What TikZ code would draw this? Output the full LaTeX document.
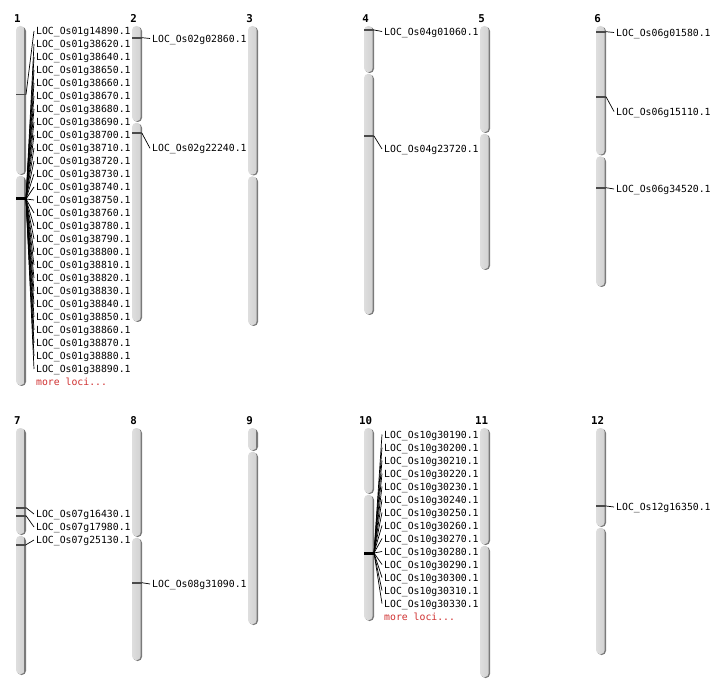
\documentclass[tikz,border=0pt]{standalone}
\usepackage{fontspec}
\newfontfamily\labfont{DejaVu Sans Mono}
\definecolor{chrlight}{HTML}{D2D2D2}
\definecolor{chrlighter}{HTML}{DEDEDE}
\definecolor{chrdark}{HTML}{7A7A7A}
\definecolor{mkgray}{HTML}{4A4A4A}
\definecolor{morered}{HTML}{D03030}
\tikzset{
  lab/.style={anchor=west, inner xsep=2pt, inner ysep=0pt, text height=7.2pt, text depth=0pt,
              font=\labfont\fontsize{9.8}{10}\selectfont},
  morelab/.style={lab, text=morered},
  chrnum/.style={inner sep=0pt, font=\labfont\bfseries\fontsize{10.8}{11}\selectfont},
  conn/.style={draw=black, line width=0.7pt},
  mksingle/.style={draw=mkgray, line width=1.7pt},
  mkcluster/.style={draw=black, line width=3pt},
}
\newcommand\chromo[5]{%
  \fill[chrdark, rounded corners=4.2pt] ({#2+1.3},{#3+0.8}) rectangle ({#2+10},{#4});
  \shade[left color=chrlighter, right color=chrlight, rounded corners=4.2pt] (#2,#3) rectangle ({#2+8.7},{#4-0.8});
  \fill[chrdark, rounded corners=4.2pt] ({#2+1.3},{#4+1.6}) rectangle ({#2+10},{#5});
  \shade[left color=chrlighter, right color=chrlight, rounded corners=4.2pt] (#2,{#4+0.8}) rectangle ({#2+8.7},{#5-0.8});
  \node[chrnum] (n#1) at ({#2+1.5},{#3-7.8}) {#1};
}
% single marker: #1 id, #2 chr left, #3 marker y, #4 label y, #5 text
\newcommand\marker[5]{%
  \coordinate (#1l) at (#2,#3);
  \coordinate (#1r) at ({#2+10},#3);
  \draw[mksingle] (#1l) -- (#1r);
  \node[lab] (#1t) at ({#2+18},#4) {#5};
  \draw[conn] (#1r) -- (#1t.west);
}
\begin{document}
\begin{tikzpicture}[x=1pt,y=-1pt]
\useasboundingbox (0,0) rectangle (712,700);
\fill[white] (0,0) rectangle (712,700);
% chromosomes
\chromo{1}{16}{26}{175}{386}
\chromo{2}{132}{26}{122}{322}
\chromo{3}{248}{26}{175.5}{326}
\chromo{4}{364}{26}{73}{315}
\chromo{5}{480}{26}{133}{270}
\chromo{6}{596}{26}{155.5}{287}
\chromo{7}{16}{428}{535}{675}
\chromo{8}{132}{428}{537}{661}
\chromo{9}{248}{428}{451}{625}
\chromo{10}{364}{428}{494}{621}
\chromo{11}{480}{428}{545}{678}
\chromo{12}{596}{428}{527}{655}
% chromosome 1
\marker{ma}{16}{94.5}{31}{LOC\_Os01g14890.1}
\coordinate (c1l) at (16,199);
\coordinate (c1r) at (26,199);
\foreach \i/\t in {1/38620,2/38640,3/38650,4/38660,5/38670,6/38680,7/38690,8/38700,
  9/38710,10/38720,11/38730,12/38740,13/38750,14/38760,15/38780,16/38790,17/38800,
  18/38810,19/38820,20/38830,21/38840,22/38850,23/38860,24/38870,25/38880,26/38890}{
  \node[lab] (a\i) at (34,{31+13*\i}) {LOC\_Os01g\t.1};
  \draw[conn] (c1r) -- (a\i.west);
}
\draw[mkcluster] (c1l) -- (c1r);
\node[morelab] (more1) at (34,382) {more loci...};
% chromosome 2
\marker{mb}{132}{37.7}{38.5}{LOC\_Os02g02860.1}
\marker{mc}{132}{133.3}{148.3}{LOC\_Os02g22240.1}
% chromosome 4
\marker{md}{364}{30}{31.5}{LOC\_Os04g01060.1}
\marker{me}{364}{136}{149}{LOC\_Os04g23720.1}
% chromosome 6
\marker{mf}{596}{31.7}{32.5}{LOC\_Os06g01580.1}
\marker{mg}{596}{96.7}{111.5}{LOC\_Os06g15110.1}
\marker{mh}{596}{187.7}{189}{LOC\_Os06g34520.1}
% chromosome 7
\marker{mi}{16}{507.7}{514}{LOC\_Os07g16430.1}
\marker{mj}{16}{515.7}{527}{LOC\_Os07g17980.1}
\marker{mk}{16}{544.7}{540}{LOC\_Os07g25130.1}
% chromosome 8
\marker{ml}{132}{582.7}{584}{LOC\_Os08g31090.1}
% chromosome 10
\coordinate (c10l) at (364,553);
\coordinate (c10r) at (374,553);
\foreach \i/\t in {0/30190,1/30200,2/30210,3/30220,4/30230,5/30240,6/30250,7/30260,
  8/30270,9/30280,10/30290,11/30300,12/30310,13/30330}{
  \node[lab] (b\i) at (382,{434.5+13*\i}) {LOC\_Os10g\t.1};
  \draw[conn] (c10r) -- (b\i.west);
}
\draw[mkcluster] (c10l) -- (c10r);
\node[morelab] (more10) at (382,616.5) {more loci...};
% chromosome 12
\marker{mm}{596}{506}{507}{LOC\_Os12g16350.1}
\end{tikzpicture}
\end{document}
